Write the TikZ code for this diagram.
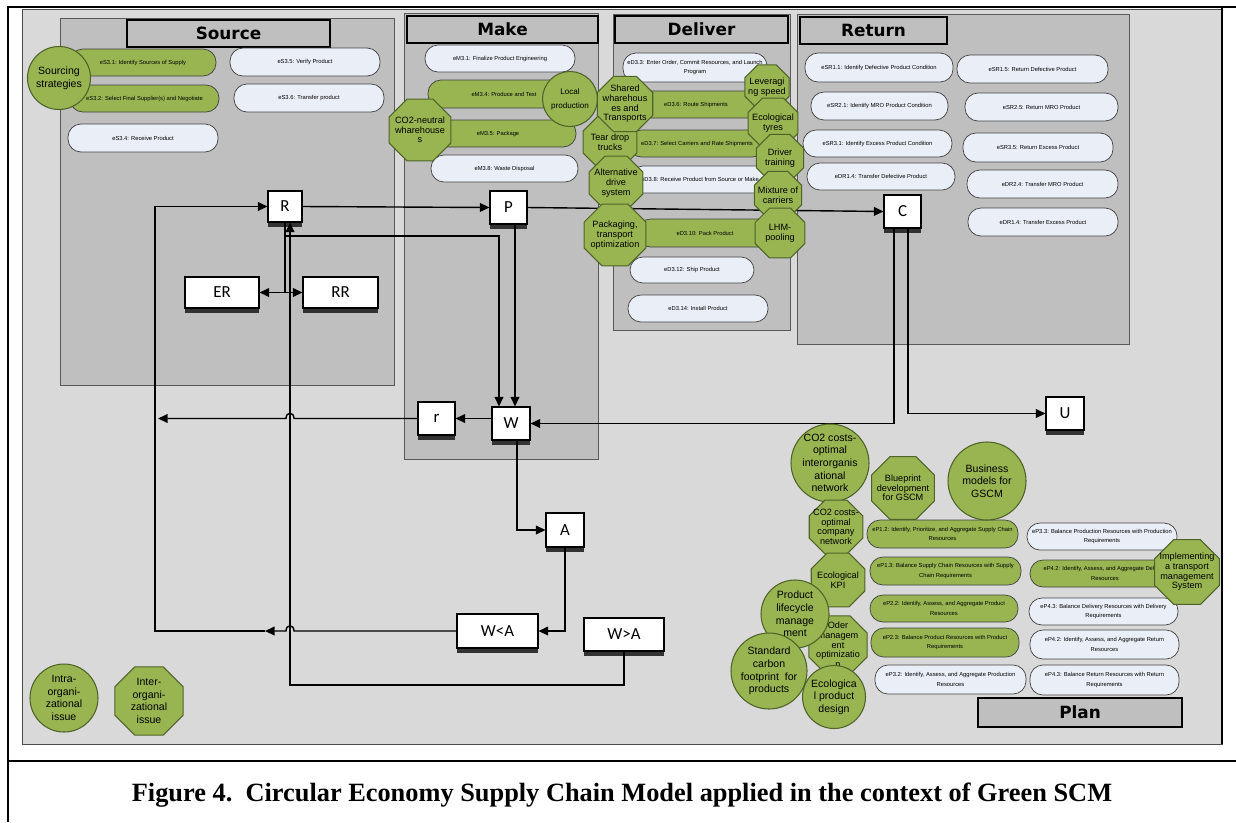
\documentclass[tikz,border=0pt]{standalone}
\usepackage{fontspec}
\setmainfont{Liberation Sans}
\newfontfamily\ttlfont{DejaVu Sans}
\newfontfamily\capfont{Liberation Serif}
\newfontfamily\boxfont{Carlito}
\usetikzlibrary{shapes.geometric,arrows.meta,shadows,calc}

\definecolor{bggray}{HTML}{D9D9D9}
\definecolor{pnlgray}{HTML}{BFBFBF}
\definecolor{gsc}{HTML}{98B552}
\definecolor{gscdark}{HTML}{4F6228}
\definecolor{pilllight}{HTML}{EAEFF7}

\tikzset{
  wd/.style={minimum width=#1*0.02cm},
  ht/.style={minimum height=#1*0.02cm},
  sz/.style={minimum size=#1*0.02cm},
  panel/.style={draw=black!65, fill=pnlgray, line width=0.5pt},
  ttl/.style={draw=black, line width=1pt, fill=pnlgray, inner sep=0pt,
    font=\ttlfont\bfseries\fontsize{9.6}{11}\selectfont},
  proc/.style={rectangle, rounded corners=0.26cm, draw=black!75, line width=0.4pt,
    inner sep=1pt, align=center, font=\fontsize{3.3}{5.3}\selectfont, wd=150, ht=28},
  pgreen/.style={proc, fill=gsc},
  plight/.style={proc, fill=pilllight},
  blk/.style={rectangle, draw=black, fill=white, line width=0.6pt, inner sep=0pt,
    font=\boxfont\fontsize{9.6}{11}\selectfont,
    drop shadow={shadow xshift=0pt, shadow yshift=-2.8pt, fill=black!80, opacity=1}},
  gcirc/.style={circle, draw=gscdark, fill=gsc, line width=0.6pt, inner sep=0pt},
  goct/.style={regular polygon, regular polygon sides=8, draw=gscdark, fill=gsc,
    line width=0.6pt, inner sep=0pt},
  ctxt/.style={align=center, inner sep=0pt, font=\fontsize{6}{7.2}\selectfont},
  otxt/.style={align=center, inner sep=0pt, font=\fontsize{5.2}{5.5}\selectfont},
  ln/.style={line width=0.8pt},
  arr/.style={ln, -{Triangle[length=5.5pt,width=5pt]}},
}

\begin{document}
\begin{tikzpicture}[x=0.02cm, y=-0.02cm]
\useasboundingbox (0,0) rectangle (1236,822);

% frame and background
\fill[bggray] (22,9) rectangle (1222,744);
\draw[black!70, line width=0.5pt] (22,9) rectangle (1222,744);
\draw[line width=1.1pt] (1222,7) -- (1222,744);
\draw[line width=1.3pt] (8,822) -- (8,7) -- (1236,7);
\draw[line width=1.3pt] (8,761) -- (1236,761);

% panels
\filldraw[panel] (60,18) rectangle (394,385);
\filldraw[panel] (404,13) rectangle (598,459);
\filldraw[panel] (613,14) rectangle (790,330);
\filldraw[panel] (797,14) rectangle (1129,344);

\node[ttl, wd=203, ht=27] (tsrc) at (228.5,33.5) {Source};
\node[ttl, wd=191, ht=27] (tmake) at (502.5,29.5) {Make};
\node[ttl, wd=173, ht=27] (tdel) at (701.5,29.5) {Deliver};
\node[ttl, wd=147, ht=27] (tret) at (873.5,30.5) {Return};
\node[ttl, wd=204, ht=29] (tplan) at (1080,712.5) {Plan};

% source processes
\node[pgreen, wd=146, ht=27] (s31) at (143,62.5) {eS3.1: Identify Sources of Supply};
\node[pgreen, wd=149, ht=27] (s32) at (144.5,98.5) {eS3.2: Select Final Supplier(s) and Negotiate};
\node[plight] (s34) at (143,138) {eS3.4: Receive Product};
\node[plight] (s35) at (305,62) {eS3.5: Verify Product};
\node[plight] (s36) at (309,98) {eS3.6: Transfer product};

% make processes
\node[plight, ht=27] (m31) at (500,58.5) {eM3.1: Finalize Product Engineering};
\node[pgreen, wd=152] (m34) at (504,94) {eM3.4: Produce and Test};
\node[pgreen, wd=156, ht=27] (m35) at (498,133.5) {eM3.5: Package};
\node[plight, wd=147, ht=27] (m38) at (504.5,168.5) {eM3.8: Waste Disposal};

% deliver processes
\node[plight, wd=144, ht=29] (d33) at (695,67.5) {eD3.3: Enter Order, Commit Resources, and Launch\\Program};
\node[pgreen, wd=132, ht=27] (d36) at (696,104.5) {eD3.6: Route Shipments};
\node[pgreen, wd=137, ht=27] (d37) at (697,143.5) {eD3.7: Select Carriers and Rate Shipments};
\node[plight, wd=140, ht=27] (d38) at (700,179.5) {eD3.8: Receive Product from Source or Make};
\node[pgreen, wd=135, ht=28] (d310) at (705,233) {eD3.10: Pack Product};
\node[plight, wd=124, ht=26] (d312) at (692,270) {eD3.12: Ship Product};
\node[plight, wd=140, ht=27] (d314) at (698,308.5) {eD3.14: Install Product};

% return processes
\node[plight, wd=148, ht=29] (sr11) at (879,67.5) {eSR1.1: Identify Defective Product Condition};
\node[plight, wd=151] (sr15) at (1032.5,69) {eSR1.5: Return Defective Product};
\node[plight, wd=137] (sr21) at (879.5,106) {eSR2.1: Identify MRO Product Condition};
\node[plight, wd=153] (sr25) at (1041.5,107) {eSR2.5: Return MRO Product};
\node[plight, wd=149, ht=27] (sr31) at (877.5,143.5) {eSR3.1: Identify Excess Product Condition};
\node[plight, ht=29] (sr35) at (1038,147.5) {eSR3.5: Return Excess Product};
\node[plight, wd=148, ht=27] (dr14) at (881,176.5) {eDR1.4: Transfer Defective Product};
\node[plight, wd=151] (dr24) at (1042.5,184) {eDR2.4: Transfer MRO Product};
\node[plight] (dr14x) at (1043,222) {eDR1.4: Transfer Excess Product};

% plan processes
\node[pgreen, wd=151] (p12) at (942.5,534) {eP1.2: Identify, Prioritize, and Aggregate Supply Chain\\Resources};
\node[plight, ht=27] (p33) at (1102,536.5) {eP3.3: Balance Production Resources with Production\\Requirements};
\node[pgreen, wd=151] (p13) at (945.5,571) {eP1.3: Balance Supply Chain Resources with Supply\\Chain Requirements};
\node[pgreen, ht=27] (p42d) at (1105,573.5) {eP4.2: Identify, Assess, and Aggregate Delivery\\Resources};
\node[pgreen, wd=148, ht=27] (p22) at (944,608.5) {eP2.2: Identify, Assess, and Aggregate Product\\Resources};
\node[plight, wd=149, ht=27] (p43d) at (1103.5,611.5) {eP4.3: Balance Delivery Resources with Delivery\\Requirements};
\node[pgreen, wd=148, ht=29] (p23) at (945,642.5) {eP2.3: Balance Product Resources with Product\\Requirements};
\node[plight, wd=149, ht=29] (p42r) at (1104.5,644.5) {eP4.2: Identify, Assess, and Aggregate Return\\Resources};
\node[plight, wd=151, ht=29] (p32) at (950.5,679.5) {eP3.2: Identify, Assess, and Aggregate Production\\Resources};
\node[plight, wd=149, ht=30] (p43r) at (1104.5,680) {eP4.3: Balance Return Resources with Return\\Requirements};

% flow boxes
\node[blk, wd=34, ht=31] (nR) at (285,206.5) {R};
\node[blk, wd=37, ht=33] (nP) at (508.5,207.5) {P};
\node[blk, wd=37, ht=33] (nC) at (902.5,211.5) {C};
\node[blk, wd=74, ht=31] (nER) at (222,292.5) {ER};
\node[blk, wd=75, ht=31] (nRR) at (340.5,292.5) {RR};
\node[blk, wd=37, ht=33] (nr) at (436.5,418.5) {r};
\node[blk, wd=38, ht=33] (nW) at (511,423.5) {W};
\node[blk, wd=38, ht=33] (nU) at (1065,413.5) {U};
\node[blk, wd=38, ht=34] (nA) at (565,530) {A};
\node[blk, wd=81, ht=34] (nWlA) at (497.5,631) {W<A};
\node[blk, wd=80, ht=33] (nWgA) at (624,634.5) {W>A};

\coordinate (jv) at (290,0);
\coordinate (rs) at (285,292.5);
\coordinate (rw) at (499,236);
\coordinate (pw) at (515,0);
\coordinate (cw) at (894,0);
\coordinate (cu) at (908,0);
\coordinate (wa) at (517,0);
\coordinate (lp) at (155,0);
\coordinate (rl) at (158,0);
\coordinate (am) at (265,0);
\coordinate (bl) at (0,685);

% flows
\draw[arr] (nR.east) -- (nP.west);
\draw[arr] (nP.east) -- (nC.west);
\draw[arr] (nC.south -| cw) |- (nW.east);
\draw[arr] (nC.south -| cu) |- (nU.west);
\draw[arr] (nP.south -| pw) -- (nW.north -| pw);
\draw[ln] (nR.south -| rs) -- (rs);
\draw[arr] (rs) -- (nER.east);
\draw[arr] (rs) -- (nRR.west);
\draw[arr] (rs |- rw) -- (rw) -- (nW.north -| rw);
\draw[arr] (nW.west |- nr.east) -- (nr.east);
\draw[arr] (nr.west) -- ($(jv |- nr.west)+(4,0)$) .. controls +(0,-7) and +(0,-7) .. ($(jv |- nr.west)+(-4,0)$) -- (rl |- nr.west);
\draw[arr] (nWlA.west) -- ($(jv |- nWlA.west)+(4,0)$) .. controls +(0,-7) and +(0,-7) .. ($(jv |- nWlA.west)+(-4,0)$) -- (am |- nWlA.west);
\draw[arr] (am |- nWlA.west) -- (lp |- nWlA.west) |- (nR.west);
\draw[arr] (nWgA.south) -- (nWgA.south |- bl) -| (nR.south -| jv);
\draw[arr] (nW.south -| wa) |- (nA.west);
\draw[arr] (nA.south) |- (nWlA.east);

% green measures
\node[gcirc, sz=63, label={[ctxt]center:{Sourcing\\strategies}}] (sourcing) at (59,78) {};
\node[gcirc, sz=55, label={[ctxt, font=\fontsize{4.6}{8}\selectfont]center:{Local\\production}}] (localprod) at (570,99) {};
\node[goct, sz=67, label={[otxt]center:{CO2-neutral\\wharehouse\\s}}] (co2wh) at (420,130) {};
\node[goct, sz=58, label={[otxt]center:{Tear drop\\trucks}}] (teardrop) at (610,142) {};
\node[goct, sz=60, label={[otxt]center:{Shared\\wharehous\\es and\\Transports}}] (shared) at (625,104) {};
\node[goct, sz=58, label={[otxt]center:{Alternative\\drive\\system}}] (altdrive) at (616,183) {};
\node[goct, sz=67, label={[otxt]center:{Packaging,\\transport\\optimization}}] (packopt) at (615,235) {};
\node[goct, sz=48, label={[otxt]center:{Leveragi\\ng speed}}] (leverage) at (767,87) {};
\node[goct, sz=54, label={[otxt]center:{Ecological\\tyres}}] (ecotyres) at (773,123) {};
\node[goct, sz=51, label={[otxt]center:{Driver\\training}}] (drivertr) at (780,158) {};
\node[goct, sz=51, label={[otxt]center:{Mixture of\\carriers}}] (mixture) at (778,195) {};
\node[goct, sz=54, label={[otxt]center:{LHM-\\pooling}}] (lhm) at (780,233) {};
\node[gcirc, sz=78, label={[ctxt]center:{CO2 costs-\\optimal\\interorganis\\ational\\network}}] (co2net) at (830,463) {};
\node[goct, sz=68, label={[otxt]center:{Blueprint\\development\\for GSCM}}] (blueprint) at (903,488) {};
\node[gcirc, sz=78, label={[ctxt]center:{Business\\models for\\GSCM}}] (business) at (987,481) {};
\node[goct, sz=58, label={[otxt]center:{CO2 costs-\\optimal\\company\\network}}] (co2comp) at (836,527) {};
\node[goct, sz=58, label={[otxt]center:{Ecological\\KPI}}] (ecokpi) at (838,580) {};
\node[goct, sz=70, label={[otxt]center:{Implementing\\a transport\\management\\System}}] (tms) at (1187,572) {};
\node[goct, sz=63, label={[otxt]center:{Oder\\managem\\ent\\optimizatio\\n}}] (ordermgmt) at (838,645) {};
\node[gcirc, sz=68, label={[ctxt]center:{Product\\lifecycle\\manage\\ment}}] (plm) at (795,614) {};
\node[gcirc, sz=76, label={[ctxt]center:{Standard\\carbon\\footprint\ \ for\\products}}] (carbonfp) at (769,671) {};
\node[gcirc, sz=63, label={[ctxt]center:{Ecologica\\l product\\design}}] (ecodesign) at (834,697) {};
\node[gcirc, sz=68, label={[ctxt]center:{Intra-\\organi-\\zational\\issue}}] (intra) at (64,698) {};
\node[goct, sz=74, label={[ctxt]center:{Inter-\\organi-\\zational\\issue}}] (inter) at (149,701) {};

% caption
\node[anchor=base, inner sep=0pt, font=\capfont\bfseries\fontsize{15}{17}\selectfont] (caption) at (622,801)
  {Figure 4.\ \ Circular Economy Supply Chain Model applied in the context of Green SCM};
\end{tikzpicture}
\end{document}
